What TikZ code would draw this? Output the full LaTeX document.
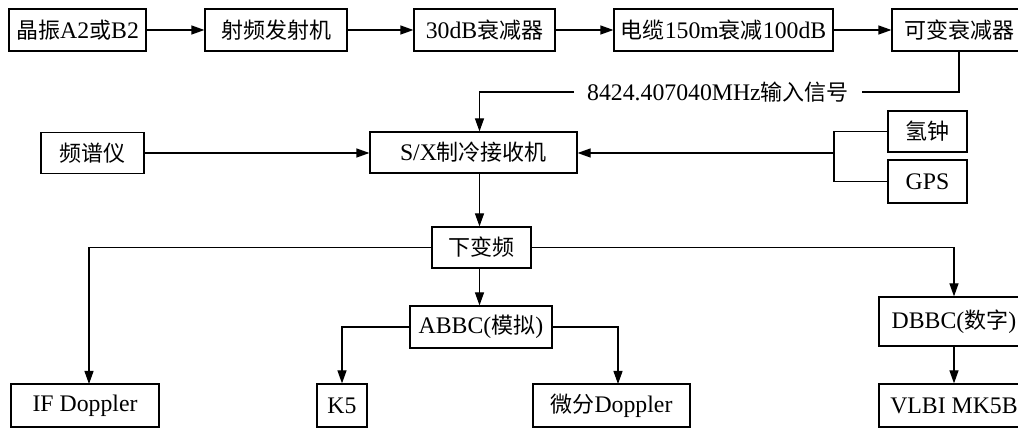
\documentclass[tikz,border=0pt]{standalone}
\usepackage{fontspec}
\setmainfont{Liberation Serif}[Scale=1.08]
\newfontfamily\cjk{Noto Sans CJK SC}
\usetikzlibrary{arrows.meta}
\begin{document}
\begin{tikzpicture}[x=1pt,y=-1pt,
  blk/.style={draw, line width=1.2pt, inner sep=0pt, font=\fontsize{22}{26}\selectfont},
  lnk/.style={line width=1.2pt},
  arr/.style={line width=1.2pt, -{Triangle[length=13pt,width=9pt]}}]
\useasboundingbox (0,0) rectangle (1018,430);
% top row
\node[blk, minimum width=137pt, minimum height=42pt] (n1) at (77.5,30) {{\cjk 晶振}A2{\cjk 或}B2};
\node[blk, minimum width=142pt, minimum height=42pt] (n2) at (276,30) {{\cjk 射频发射机}};
\node[blk, minimum width=141pt, minimum height=42pt] (n3) at (484.5,30) {30dB{\cjk 衰减器}};
\node[blk, minimum width=219pt, minimum height=42pt] (n4) at (723.5,30) {{\cjk 电缆}150m{\cjk 衰减}100dB};
\node[blk, minimum width=134pt, minimum height=42pt] (n5) at (959,30) {{\cjk 可变衰减器}};
\draw[arr] (n1.east) -- (n2.west);
\draw[arr] (n2.east) -- (n3.west);
\draw[arr] (n3.east) -- (n4.west);
\draw[arr] (n4.east) -- (n5.west);
% input signal label
\node[font=\fontsize{22}{26}\selectfont, inner xsep=13pt, inner ysep=0pt] (lbl) at (718,92) {8424.407040MHz{\cjk 输入信号}};
% middle row
\node[blk, minimum width=207pt, minimum height=41pt] (rx) at (473.5,152.5) {S/X{\cjk 制冷接收机}};
\node[blk, minimum width=103pt, minimum height=41pt] (sp) at (92.5,153) {{\cjk 频谱仪}};
\node[blk, minimum width=79pt, minimum height=41pt] (h) at (927.5,131.5) {{\cjk 氢钟}};
\node[blk, minimum width=79pt, minimum height=43pt] (gps) at (927.5,181.5) {GPS};
\coordinate (vx) at (479.5,0);
\coordinate (br) at (834,153);
\draw[lnk] (n5.south) |- (lbl.east);
\draw[arr] (lbl.west) -| (rx.north -| vx);
\draw[arr] (sp.east) -- (sp.east -| rx.west);
\draw[lnk] (h.west) -| (br) |- (gps.west);
\draw[arr] (br) -- (br -| rx.east);
% down converter
\node[blk, minimum width=99pt, minimum height=41pt] (dc) at (481.5,247.5) {{\cjk 下变频}};
\draw[arr] (rx.south -| vx) -- (dc.north -| vx);
% lower blocks
\node[blk, minimum width=142pt, minimum height=42pt] (abbc) at (481,327) {ABBC({\cjk 模拟})};
\node[blk, minimum width=150pt, minimum height=49pt] (dbbc) at (954,321.5) {DBBC({\cjk 数字})};
\node[blk, minimum width=148pt, minimum height=43pt] (ifd) at (85,405.5) {IF Doppler};
\node[blk, minimum width=50pt, minimum height=43pt] (k5) at (342,405.5) {K5};
\node[blk, minimum width=157pt, minimum height=43pt] (wf) at (611.5,405.5) {{\cjk 微分}Doppler};
\node[blk, minimum width=150pt, minimum height=43pt] (vlbi) at (954,405.5) {VLBI MK5B};
\coordinate (ifin) at (89,384);
\coordinate (wfin) at (618,384);
\draw[arr] (dc.west) -| (ifin);
\draw[arr] (dc.east) -| (dbbc.north);
\draw[arr] (dc.south -| vx) -- (abbc.north -| vx);
\draw[arr] (abbc.west) -| (k5.north);
\draw[arr] (abbc.east) -| (wfin);
\draw[arr] (dbbc.south) -- (vlbi.north);
\end{tikzpicture}
\end{document}
